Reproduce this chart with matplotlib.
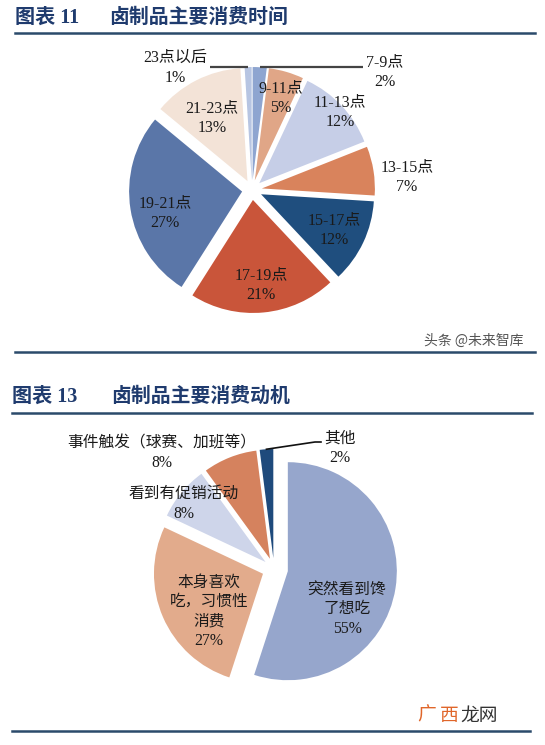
import math
import matplotlib
matplotlib.use("Agg")
import matplotlib.pyplot as plt
from matplotlib.lines import Line2D

W, H = 545, 745

# chart 11: consumption time
time_labels = ["7-9点", "9-11点", "11-13点", "13-15点", "15-17点",
               "17-19点", "19-21点", "21-23点", "23点以后"]
time_share = [2, 5, 12, 7, 12, 21, 27, 13, 1]

# chart 13: consumption motive
motive_labels = ["突然看到馋\n了想吃", "本身喜欢\n吃，习惯性\n消费", "看到有促销活动",
                 "事件触发（球赛、加班等）", "其他"]
motive_share = [55, 27, 8, 8, 2]

time_colors = ["#8EA5D0", "#E0A687", "#C6CEE7", "#D9835C", "#1F4E7E",
               "#C9553A", "#5A76A8", "#F3E3D7", "#B7C5E2"]
motive_colors = ["#96A6CC", "#E2AB8C", "#CED5EA", "#D5825E", "#1E4A7C"]

# label centres in image pixels (x, y from top)
time_label_pos = [(385, 72), (281, 98), (340, 112), (407, 177), (334, 230),
                  (261, 285), (165, 213), (212, 118), (175, 68)]
motive_label_pos = [(347, 609), (209, 612), (184, 504), (162, 453), (340, 448)]

LABEL_FONT = ["Liberation Serif", "Noto Sans CJK SC"]
TITLE_COLOR = "#1F3B6E"
LINE_COLOR = "#2B4A6B"


def img(y):
    """image y (from top) -> axes y"""
    return H - y


def arc_mid(wedge):
    """point on the outer arc at the middle angle of a wedge"""
    th = math.radians((wedge.theta1 + wedge.theta2) / 2)
    return (wedge.center[0] + wedge.r * math.cos(th),
            wedge.center[1] + wedge.r * math.sin(th))


fig = plt.figure(figsize=(W / 100, H / 100), dpi=100)
ax = fig.add_axes([0, 0, 1, 1])

# pie 1
w1, _ = ax.pie(time_share, colors=time_colors, startangle=90, counterclock=False,
               center=(252, img(190)), radius=113, explode=[10] * len(time_share),
               wedgeprops=dict(linewidth=0))
for lab, val, (x, y) in zip(time_labels, time_share, time_label_pos):
    ax.text(x, img(y), f"{lab}\n{val}%", ha="center", va="center", fontsize=11.5,
            family=LABEL_FONT, color="#1a1a1a", linespacing=1.3)

# leader lines for the two thin slices at the top
for wedge, x_end in [(w1[0], 363), (w1[-1], 210)]:
    px, py = arc_mid(wedge)
    ax.plot([px, x_end], [py, py], color="#444444", lw=1.6, solid_capstyle="butt")

# pie 2
w2, _ = ax.pie(motive_share, colors=motive_colors, startangle=90, counterclock=False,
               center=(274, img(569)), radius=109, explode=[14, 12, 11, 11, 11],
               wedgeprops=dict(linewidth=0))
for lab, val, (x, y) in zip(motive_labels, motive_share, motive_label_pos):
    ax.text(x, img(y), f"{lab}\n{val}%", ha="center", va="center", fontsize=11.3,
            family=LABEL_FONT, color="#1a1a1a", linespacing=1.3)

# leader line for "其他"
px, py = arc_mid(w2[-1])
ax.plot([px, 315, 321], [py, img(442), img(442)], color="#111111", lw=1.2)

ax.set_xlim(0, W)
ax.set_ylim(0, H)
ax.set_aspect("auto")
ax.axis("off")

# titles
fig.text(15 / W, 1 - 18 / H, "图表 11", fontsize=14.5, weight="bold",
         family=LABEL_FONT, color=TITLE_COLOR, va="center", ha="left")
fig.text(109 / W, 1 - 18 / H, "卤制品主要消费时间", fontsize=14.3, weight="bold",
         family=LABEL_FONT, color=TITLE_COLOR, va="center", ha="left")
fig.text(12 / W, 1 - 397 / H, "图表 13", fontsize=14.5, weight="bold",
         family=LABEL_FONT, color=TITLE_COLOR, va="center", ha="left")
fig.text(111 / W, 1 - 397 / H, "卤制品主要消费动机", fontsize=14.3, weight="bold",
         family=LABEL_FONT, color=TITLE_COLOR, va="center", ha="left")

# rules
for x0, x1, y in [(15, 535, 33), (15, 535, 352), (12, 532, 413), (12, 530, 731)]:
    fig.add_artist(Line2D([x0 / W, x1 / W], [1 - y / H] * 2, color=LINE_COLOR, lw=1.8))

# watermarks
fig.text(474 / W, 1 - 341 / H, "头条 @未来智库", fontsize=10, family="Noto Sans CJK SC",
         color="#555555", ha="center", va="center")
fig.text(417 / W, 1 - 715 / H, "广", fontsize=13.5, family="Noto Sans CJK SC",
         color="#E0662A", ha="left", va="center")
fig.text(440 / W, 1 - 715 / H, "西", fontsize=13.5, family="Noto Sans CJK SC",
         color="#E0662A", ha="left", va="center")
fig.text(460 / W, 1 - 715 / H, "龙网", fontsize=13.5, family="Noto Sans CJK SC",
         color="#333333", ha="left", va="center")

fig.savefig("out.png", dpi=100)
